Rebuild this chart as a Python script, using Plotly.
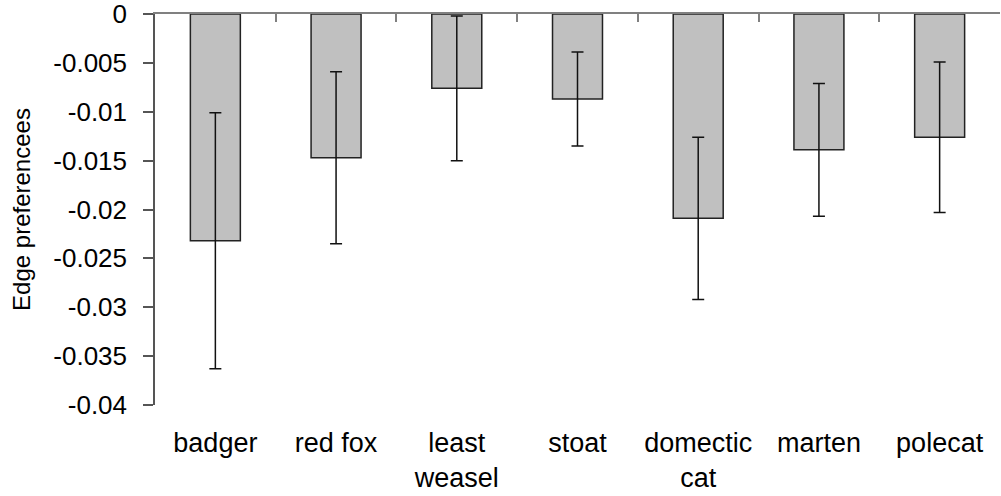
import plotly.graph_objects as go

categories = ["badger", "red fox", "least<br>weasel", "stoat", "domectic<br>cat", "marten", "polecat"]
means = [-0.0232, -0.0147, -0.0076, -0.0087, -0.0209, -0.0139, -0.0126]
errors = [0.0131, 0.0088, 0.0074, 0.0048, 0.0083, 0.0068, 0.0077]
y_tickvals = [0, -0.005, -0.01, -0.015, -0.02, -0.025, -0.03, -0.035, -0.04]
y_ticktext = ["0", "-0.005", "-0.01", "-0.015", "-0.02", "-0.025", "-0.03", "-0.035", "-0.04"]

FONT = "Liberation Sans, Arial, sans-serif"

fig = go.Figure()
fig.add_trace(go.Bar(
    x=categories, y=means,
    marker=dict(color="#c0c0c0", line=dict(color="#222222", width=1.5)),
    width=0.414,
    error_y=dict(type="data", array=errors, visible=True, color="#111111", thickness=1.5, width=6),
    showlegend=False, hoverinfo="skip",
))
# invisible helper trace for the top boundary-tick axis
fig.add_trace(go.Scatter(
    x=categories, y=means, xaxis="x2", mode="markers",
    marker=dict(opacity=0), showlegend=False, hoverinfo="skip",
))

fig.update_layout(
    width=1001, height=496,
    margin=dict(l=155, r=1, t=14, b=91, autoexpand=False),
    paper_bgcolor="white", plot_bgcolor="white",
    font=dict(family=FONT, size=22, color="black"),
    xaxis=dict(
        type="category", categoryorder="array", categoryarray=categories,
        range=[-0.5, 6.5], showline=False, showgrid=False, zeroline=False,
        ticks="", ticklabelstandoff=19, tickfont=dict(size=27), automargin=False,
    ),
    xaxis2=dict(
        type="category", categoryorder="array", categoryarray=categories,
        range=[-0.5, 6.5], overlaying="x", side="top", anchor="y",
        showline=True, linecolor="#808080", linewidth=1.5,
        ticks="inside", tickson="boundaries", ticklen=8, tickcolor="#808080", tickwidth=1.5,
        showticklabels=False, showgrid=False, zeroline=False, automargin=False,
    ),
    yaxis=dict(
        range=[-0.04, 0], tickvals=y_tickvals, ticktext=y_ticktext,
        showline=True, linecolor="#555555", linewidth=1.5,
        ticks="outside", ticklen=10, tickcolor="#555555", tickwidth=1.5,
        showgrid=False, zeroline=False, ticklabelstandoff=11,
        ticklabeloverflow="allow", automargin=False,
        tickfont=dict(size=26),
        title=dict(text="Edge preferencees", font=dict(size=24), standoff=16),
    ),
)

fig.write_html("out.html")
